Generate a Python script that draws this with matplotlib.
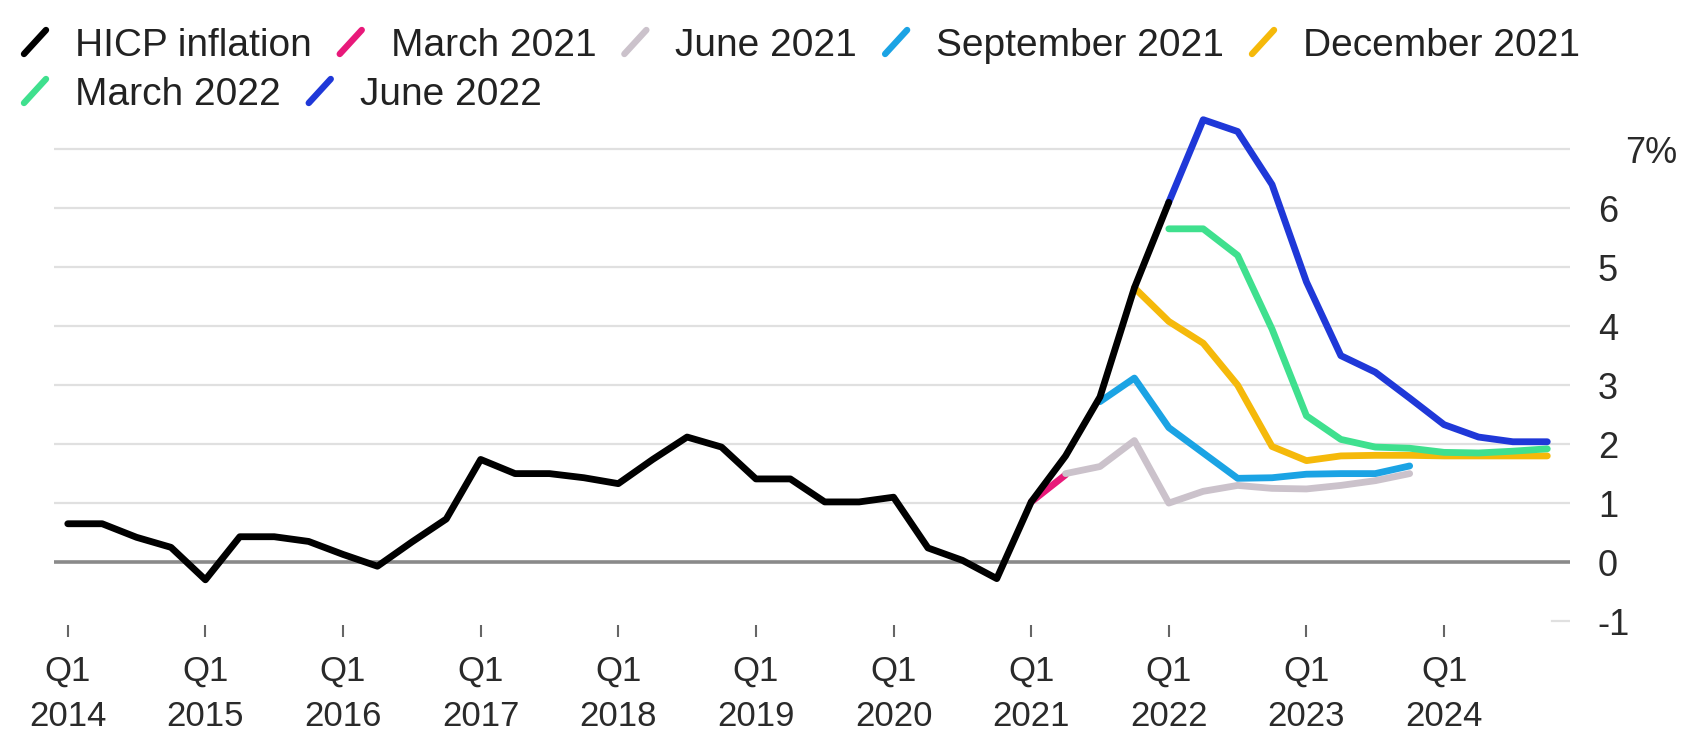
import numpy as np
import matplotlib.pyplot as plt
from matplotlib.lines import Line2D
from matplotlib.transforms import ScaledTranslation

plt.rcParams['font.family'] = ['Liberation Sans', 'DejaVu Sans']

# quarterly index: 0 = Q1 2014
years = [2014, 2015, 2016, 2017, 2018, 2019, 2020, 2021, 2022, 2023, 2024]
year_labels = [f"Q1\n{y}" for y in years]

hicp = [0.65, 0.65, 0.42, 0.25,
        -0.30, 0.43, 0.43, 0.35,
        0.13, -0.07, 0.34, 0.73,
        1.74, 1.50, 1.50, 1.43,
        1.33, 1.74, 2.12, 1.95,
        1.41, 1.41, 1.02, 1.02,
        1.10, 0.24, 0.03, -0.28,
        1.02, 1.80, 2.80, 4.65,
        6.10]

# projections: first quarter index + values
mar21_start, mar21 = 28, [1.02, 1.48]
jun21_start, jun21 = 29, [1.50, 1.62, 2.06, 1.00, 1.20, 1.30, 1.25, 1.24, 1.30, 1.38, 1.50]
sep21_start, sep21 = 30, [2.72, 3.12, 2.28, 1.85, 1.42, 1.43, 1.49, 1.50, 1.50, 1.63]
dec21_start, dec21 = 31, [4.65, 4.08, 3.71, 3.00, 1.96, 1.72, 1.80, 1.81, 1.81, 1.80, 1.80, 1.80, 1.80]
mar22_start, mar22 = 32, [5.65, 5.65, 5.20, 3.95, 2.48, 2.08, 1.95, 1.93, 1.86, 1.85, 1.88, 1.92]
jun22_start, jun22 = 32, [6.10, 7.50, 7.30, 6.40, 4.75, 3.50, 3.22, 2.78, 2.33, 2.12, 2.04, 2.04]

series = [
    ("March 2021", mar21_start, mar21, "#e8197a"),
    ("June 2021", jun21_start, jun21, "#cbc2cb"),
    ("September 2021", sep21_start, sep21, "#1ba3e4"),
    ("December 2021", dec21_start, dec21, "#f5b90a"),
    ("March 2022", mar22_start, mar22, "#3fe08e"),
    ("June 2022", jun22_start, jun22, "#1f38d8"),
]

W, H = 1691, 735
fig = plt.figure(figsize=(W / 100, H / 100), dpi=100)
ax = fig.add_axes([54 / W, (H - 637) / H, 1516 / W, (637 - 102) / H])

LW = 4.9
for name, start, vals, col in series:
    x = np.arange(start, start + len(vals))
    ax.plot(x, vals, color=col, lw=LW, solid_capstyle="round", solid_joinstyle="round", zorder=3)
ax.plot(np.arange(len(hicp)), hicp, color="black", lw=LW, solid_capstyle="round",
        solid_joinstyle="round", zorder=4)

# grid
for v in range(1, 8):
    ax.axhline(v, color="#e0e0e0", lw=1.6, zorder=1)
ax.axhline(0, color="#8a8a8a", lw=2.6, zorder=2)
ax.axhline(-1, xmin=0.988, xmax=1.0, color="#e0e0e0", lw=1.6, zorder=1)

ax.set_xlim(-0.4, 43.66)
ax.set_ylim(-1.27, 7.8)
for s in ax.spines.values():
    s.set_visible(False)

ax.set_xticks(np.arange(0, 44, 4))
ax.set_xticklabels(year_labels, fontsize=25, color="#2a2a2a", linespacing=1.45)
ax.tick_params(axis="x", direction="in", length=9, width=1.5, color="#666666", pad=13)

ax.yaxis.tick_right()
yt = list(range(-1, 8))
ax.set_yticks(yt)
ax.set_yticklabels([str(v) for v in yt[:-1]] + ["7%"], fontsize=26, color="#2a2a2a")
ax.tick_params(axis="y", length=0, pad=20)
for lab in ax.get_yticklabels():
    lab.set_horizontalalignment("left")
top_lab = ax.get_yticklabels()[-1]
top_lab.set_transform(top_lab.get_transform() + ScaledTranslation(20 / 72, 0, fig.dpi_scale_trans))

# legend drawn as flow layout
rows = [
    [("HICP inflation", "black")] + [(n, c) for n, _, _, c in series[:4]],
    [(n, c) for n, _, _, c in series[4:]],
]
baselines = [56, 105]
renderer = fig.canvas.get_renderer()
for row, base in zip(rows, baselines):
    x = 24
    cy = base - 14
    for name, col in row:
        fig.add_artist(Line2D([x / W, (x + 22) / W], [(H - cy - 12) / H, (H - cy + 12) / H],
                              transform=fig.transFigure, color=col, lw=4.6,
                              solid_capstyle="round"))
        t = fig.text((x + 51) / W, (H - base) / H, name, fontsize=28, color="#222222",
                     va="baseline", ha="left")
        w = t.get_window_extent(renderer).width
        x = x + 51 + w + 28

fig.savefig("out.png", dpi=100)
